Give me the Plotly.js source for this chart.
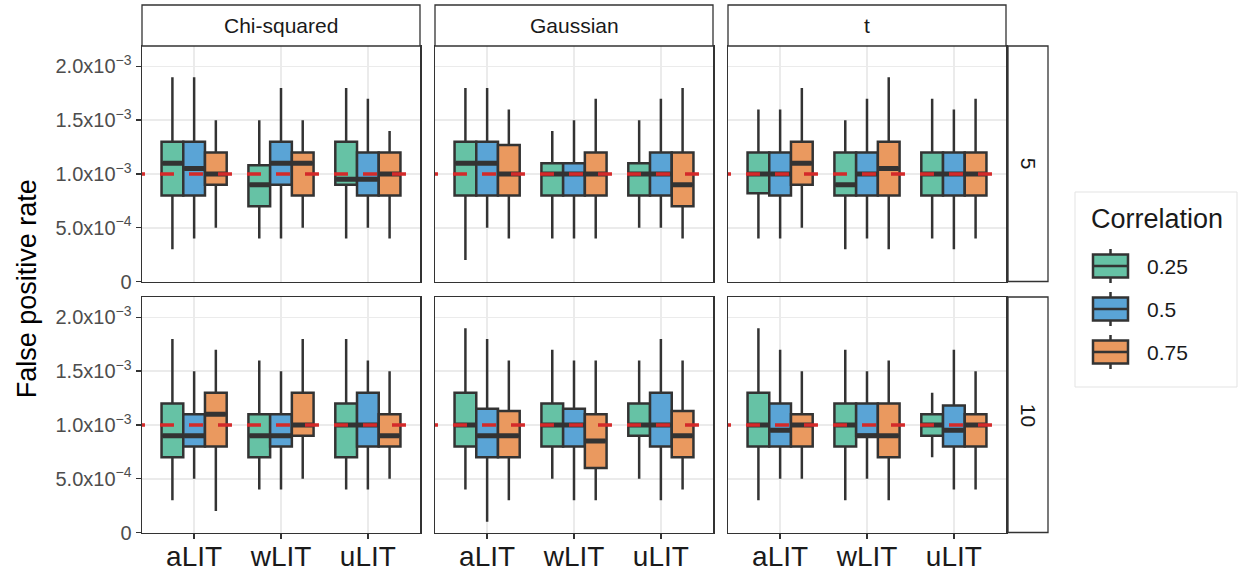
<!DOCTYPE html>
<html>
<head>
<meta charset="utf-8">
<script src="https://cdn.plot.ly/plotly-3.0.1.min.js"></script>
<style>
  html, body { margin: 0; padding: 0; background: #ffffff; }
  #chart { width: 1238px; height: 573px; }
</style>
</head>
<body>
<div id="chart"></div>
<script>
// ---- data -------------------------------------------------------------
const categories    = ['aLIT', 'wLIT', 'uLIT'];
const correlations  = ['0.25', '0.5', '0.75'];
const distributions = ['Chi-squared', 'Gaussian', 't'];
const dimensions    = ['5', '10'];
const nominalRate   = 1e-3;
const UNIT = 1e-4;   // box statistics below are in units of 1e-4

const yTickVals = [0, 5e-4, 1e-3, 1.5e-3, 2e-3];
const yTickText = ['0', '5.0x10<sup>\u22124</sup>', '1.0x10<sup>\u22123</sup>',
                   '1.5x10<sup>\u22123</sup>', '2.0x10<sup>\u22123</sup>'];

// each entry: [lower whisker, Q1, median, Q3, upper whisker] for aLIT, wLIT, uLIT
const chi5_r25  = [[3, 8, 11, 13, 19], [4, 7, 9, 10.8, 15], [4, 9, 9.5, 13, 18]];
const chi5_r50  = [[4, 8, 10.5, 13, 19], [4, 9, 11, 13, 18], [5, 8, 9.5, 12, 17]];
const chi5_r75  = [[5, 9, 10, 12, 15], [5, 8, 11, 12, 15], [4, 8, 10, 12, 14]];

const gau5_r25  = [[2, 8, 11, 13, 18], [4, 8, 10, 11, 14], [5, 8, 10, 11, 15]];
const gau5_r50  = [[5, 8, 11, 13, 18], [4, 8, 10, 11, 15], [5, 8, 10, 12, 17]];
const gau5_r75  = [[4, 8, 10, 12.7, 16], [4, 8, 10, 12, 17], [4, 7, 9, 12, 18]];

const t5_r25    = [[4, 8.2, 10, 12, 16], [3, 8, 9, 12, 15], [4, 8, 10, 12, 17]];
const t5_r50    = [[4, 8, 10, 12, 16], [4, 8, 10, 12, 17], [3, 8, 10, 12, 16]];
const t5_r75    = [[5, 9, 11, 13, 18], [3, 8, 10.5, 13, 19], [4, 8, 10, 12, 17]];

const chi10_r25 = [[3, 7, 9, 12, 18], [4, 7, 9, 11, 16], [4, 7, 10, 12, 18]];
const chi10_r50 = [[5, 8, 9, 11, 15], [4, 8, 9, 11, 15], [4, 8, 10, 13, 16]];
const chi10_r75 = [[2, 8, 11, 13, 17], [5, 9, 10, 13, 18], [5, 8, 9, 11, 15]];

const gau10_r25 = [[4, 8, 10, 13, 19], [5, 8, 10, 12, 17], [5, 9, 10, 12, 16]];
const gau10_r50 = [[1, 7, 9, 11.5, 18], [3, 8, 10, 11.5, 16], [3, 8, 10, 13, 18]];
const gau10_r75 = [[3, 7, 9, 11.3, 16], [3, 6, 8.5, 11, 16], [4, 7, 9, 11.3, 16]];

const t10_r25   = [[3, 8, 10, 13, 19], [3, 8, 10, 12, 17], [7, 9, 10, 11, 13]];
const t10_r50   = [[5, 8, 9.5, 12, 17], [5, 9, 9, 12, 15], [4, 8, 9.5, 11.8, 17]];
const t10_r75   = [[5, 8, 10, 11, 15], [3, 7, 9, 12, 16], [4, 8, 10, 11, 15]];

// panels in reading order: row = dimension, column = distribution
const panelSeries = [
  [chi5_r25, chi5_r50, chi5_r75],   [gau5_r25, gau5_r50, gau5_r75],   [t5_r25, t5_r50, t5_r75],
  [chi10_r25, chi10_r50, chi10_r75], [gau10_r25, gau10_r50, gau10_r75], [t10_r25, t10_r50, t10_r75]
];

// ---- styling ----------------------------------------------------------
const W = 1238, H = 573;
const FONT = 'Liberation Sans, Arial, Helvetica, sans-serif';
const fills = ['#66c2a5', '#5aa4d6', '#ea995f'];
const ink = '#333333';
const refRed = '#d42a2a';
const colPx = [[142, 420], [435, 713], [728, 1006]];
const rowPx = [[46, 281.5], [297, 532.5]];
const stripTop = 5, stripRight = [1008, 1048];
const BOXGAP = 0.25, NBOX = correlations.length;
const boxW = (1 - BOXGAP) / NBOX;
const LW = 2.5;
const fx = px => px / W;
const fy = py => 1 - py / H;

const traces = [];
const shapes = [];
const annotations = [];
const layout = {
  width: W, height: H,
  margin: { l: 0, r: 0, t: 0, b: 0 },
  paper_bgcolor: '#ffffff', plot_bgcolor: '#ffffff',
  font: { family: FONT, color: '#1a1a1a' },
  boxmode: 'group', boxgap: BOXGAP, boxgroupgap: 0,
  showlegend: false,
  shapes: shapes,
  annotations: annotations
};

for (let p = 0; p < panelSeries.length; p++) {
  const row = Math.floor(p / 3), col = p % 3;
  const sfx = p === 0 ? '' : String(p + 1);
  const xid = 'x' + sfx, yid = 'y' + sfx;

  layout['xaxis' + sfx] = {
    domain: [fx(colPx[col][0]), fx(colPx[col][1])], anchor: yid,
    type: 'category', categoryorder: 'array', categoryarray: categories,
    range: [-0.6, 2.6], fixedrange: true,
    showgrid: true, gridcolor: '#ebebeb', gridwidth: 1.6, zeroline: false,
    showline: true, linecolor: ink, linewidth: 1.5, mirror: true,
    ticks: row === 1 ? 'outside' : '', ticklen: 5, tickwidth: 1.5, tickcolor: ink,
    showticklabels: row === 1, ticklabelstandoff: -7,
    tickfont: { size: 28, color: '#1a1a1a', family: FONT }
  };
  layout['yaxis' + sfx] = {
    domain: [fy(rowPx[row][1]), fy(rowPx[row][0])], anchor: xid,
    range: [0, 2.19e-3], fixedrange: true,
    tickmode: 'array', tickvals: yTickVals, ticktext: yTickText,
    showgrid: true, gridcolor: '#ebebeb', gridwidth: 1.6, zeroline: false,
    showline: true, linecolor: ink, linewidth: 1.5, mirror: true,
    ticks: col === 0 ? 'outside' : '', ticklen: 5, tickwidth: 1.5, tickcolor: ink,
    showticklabels: col === 0,
    tickfont: { size: 20, color: '#4d4d4d', family: FONT }
  };

  panelSeries[p].forEach((stats, k) => {
    traces.push({
      type: 'box',
      name: correlations[k],
      alignmentgroup: 'panel' + p,
      offsetgroup: correlations[k],
      x: categories,
      lowerfence: stats.map(s => s[0] * UNIT),
      q1:         stats.map(s => s[1] * UNIT),
      median:     stats.map(s => s[2] * UNIT),
      q3:         stats.map(s => s[3] * UNIT),
      upperfence: stats.map(s => s[4] * UNIT),
      xaxis: xid, yaxis: yid,
      fillcolor: fills[k],
      line: { color: ink, width: LW },
      whiskerwidth: 0,
      boxpoints: false,
      hoverinfo: 'skip'
    });
    // thicker median bar, as in the usual box-plot look
    stats.forEach((s, i) => {
      const c = i + (k - (NBOX - 1) / 2) * boxW;
      shapes.push({
        type: 'line', xref: xid, yref: yid, layer: 'above',
        x0: c - boxW / 2 + 0.01, x1: c + boxW / 2 - 0.01,
        y0: s[2] * UNIT, y1: s[2] * UNIT,
        line: { color: ink, width: 5 }
      });
    });
  });

  // nominal level reference line
  shapes.push({
    type: 'line', xref: xid, yref: yid, layer: 'above',
    x0: -0.727, x1: 2.7, y0: nominalRate, y1: nominalRate,
    line: { color: refRed, width: 3.5, dash: '14px,15px' }
  });
}

// facet strips: distributions across the top
distributions.forEach((d, col) => {
  shapes.push({
    type: 'rect', xref: 'paper', yref: 'paper', layer: 'above',
    x0: fx(colPx[col][0]), x1: fx(colPx[col][1]), y0: fy(rowPx[0][0]), y1: fy(stripTop),
    fillcolor: '#ffffff', line: { color: ink, width: 1.3 }
  });
  annotations.push({
    xref: 'paper', yref: 'paper', showarrow: false,
    x: fx((colPx[col][0] + colPx[col][1]) / 2), y: fy((stripTop + rowPx[0][0]) / 2),
    xanchor: 'center', yanchor: 'middle',
    text: d, font: { size: 21, color: '#1a1a1a', family: FONT }
  });
});

// facet strips: dimension down the right side
dimensions.forEach((d, row) => {
  shapes.push({
    type: 'rect', xref: 'paper', yref: 'paper', layer: 'above',
    x0: fx(stripRight[0]), x1: fx(stripRight[1]), y0: fy(rowPx[row][1]), y1: fy(rowPx[row][0]),
    fillcolor: '#ffffff', line: { color: ink, width: 1.3 }
  });
  annotations.push({
    xref: 'paper', yref: 'paper', showarrow: false,
    x: fx((stripRight[0] + stripRight[1]) / 2), y: fy((rowPx[row][0] + rowPx[row][1]) / 2),
    xanchor: 'center', yanchor: 'middle', textangle: 90,
    text: d, font: { size: 21, color: '#1a1a1a', family: FONT }
  });
});

// shared y-axis title
annotations.push({
  xref: 'paper', yref: 'paper', showarrow: false,
  x: fx(27), y: fy((rowPx[0][0] + rowPx[1][1]) / 2),
  xanchor: 'center', yanchor: 'middle', textangle: -90,
  text: 'False positive rate', font: { size: 27, color: '#000000', family: FONT }
});

// legend: boxed keys with whiskers and a median bar
const legendBox = { x0: 1075, x1: 1237, y0: 192, y1: 387 };
const keyX = [1093, 1128], keyRowY = [266, 309, 352], keyHalfH = 11.5, whiskerHalf = 17;
shapes.push({
  type: 'rect', xref: 'paper', yref: 'paper', layer: 'above',
  x0: fx(legendBox.x0), x1: fx(legendBox.x1), y0: fy(legendBox.y1), y1: fy(legendBox.y0),
  fillcolor: 'rgba(0,0,0,0)', line: { color: '#e3e3e3', width: 1 }
});
annotations.push({
  xref: 'paper', yref: 'paper', showarrow: false,
  x: fx(1089), y: fy(219), xanchor: 'left', yanchor: 'middle',
  text: 'Correlation', font: { size: 27, color: '#1a1a1a', family: FONT }
});
correlations.forEach((c, k) => {
  const cy = keyRowY[k], cx = (keyX[0] + keyX[1]) / 2;
  shapes.push({
    type: 'line', xref: 'paper', yref: 'paper', layer: 'above',
    x0: fx(cx), x1: fx(cx), y0: fy(cy - whiskerHalf), y1: fy(cy + whiskerHalf),
    line: { color: ink, width: LW }
  });
  shapes.push({
    type: 'rect', xref: 'paper', yref: 'paper', layer: 'above',
    x0: fx(keyX[0]), x1: fx(keyX[1]), y0: fy(cy + keyHalfH), y1: fy(cy - keyHalfH),
    fillcolor: fills[k], line: { color: ink, width: LW }
  });
  shapes.push({
    type: 'line', xref: 'paper', yref: 'paper', layer: 'above',
    x0: fx(keyX[0]), x1: fx(keyX[1]), y0: fy(cy), y1: fy(cy),
    line: { color: ink, width: LW }
  });
  annotations.push({
    xref: 'paper', yref: 'paper', showarrow: false,
    x: fx(1145), y: fy(cy), xanchor: 'left', yanchor: 'middle',
    text: c, font: { size: 21, color: '#1a1a1a', family: FONT }
  });
});

Plotly.newPlot('chart', traces, layout, { staticPlot: true, displayModeBar: false });
</script>
</body>
</html>
